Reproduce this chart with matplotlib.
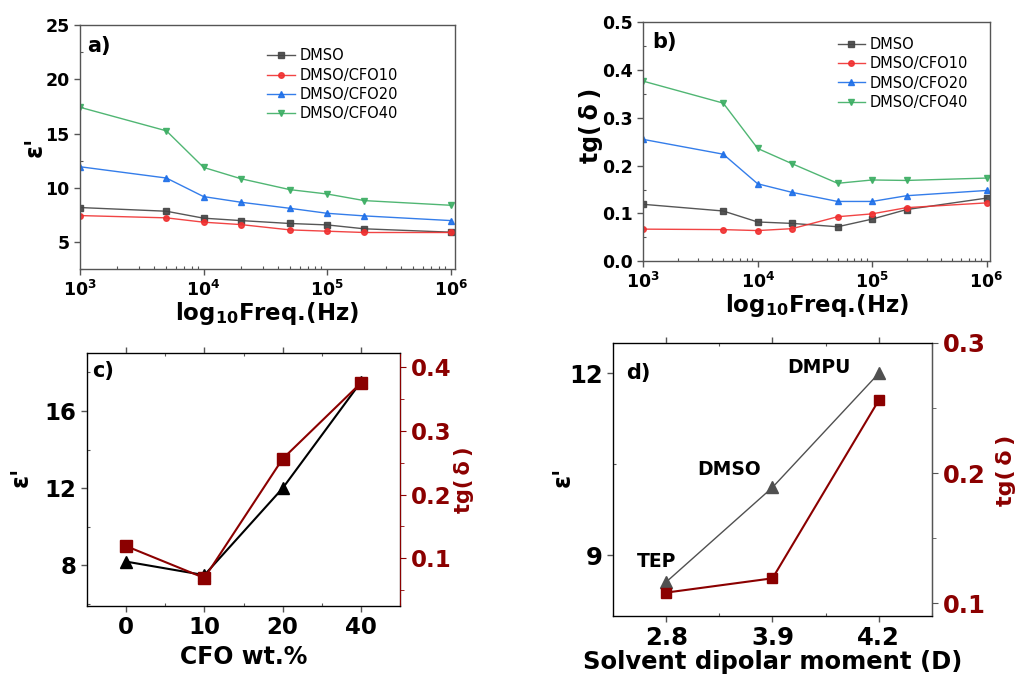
import numpy as np
import matplotlib
matplotlib.use('Agg')
import matplotlib.pyplot as plt
from matplotlib.ticker import MultipleLocator, LogLocator, NullFormatter, FormatStrFormatter

plt.rcParams['font.family'] = ['DejaVu Sans']
plt.rcParams['font.weight'] = 'bold'
plt.rcParams['mathtext.fontset'] = 'custom'
plt.rcParams['mathtext.rm'] = 'DejaVu Sans:bold'
plt.rcParams['mathtext.bf'] = 'DejaVu Sans:bold'
plt.rcParams['mathtext.default'] = 'regular'

DARK_RED = '#8B0000'
SPINE = '#555555'

# frequency sweep (Hz)
freq = [1e3, 5e3, 1e4, 2e4, 5e4, 1e5, 2e5, 1e6]
series_names = ['DMSO', 'DMSO/CFO10', 'DMSO/CFO20', 'DMSO/CFO40']

# real permittivity vs frequency
eps_dmso = [8.19, 7.85, 7.21, 6.99, 6.72, 6.59, 6.23, 5.92]
eps_cfo10 = [7.45, 7.24, 6.84, 6.62, 6.13, 6.01, 5.89, 5.89]
eps_cfo20 = [11.95, 10.91, 9.20, 8.68, 8.12, 7.66, 7.42, 6.99]
eps_cfo40 = [17.43, 15.26, 11.89, 10.85, 9.84, 9.44, 8.83, 8.40]

# loss tangent vs frequency
tg_dmso = [0.119, 0.105, 0.082, 0.079, 0.072, 0.088, 0.108, 0.132]
tg_cfo10 = [0.067, 0.066, 0.064, 0.068, 0.093, 0.099, 0.112, 0.122]
tg_cfo20 = [0.255, 0.224, 0.162, 0.144, 0.125, 0.125, 0.137, 0.148]
tg_cfo40 = [0.377, 0.331, 0.236, 0.204, 0.163, 0.170, 0.169, 0.174]

# values at 1 kHz vs filler content
cfo_wt = ['0', '10', '20', '40']
eps_vs_cfo = [8.2, 7.5, 12.0, 17.5]
tg_vs_cfo = [0.119, 0.069, 0.256, 0.375]

# values vs solvent dipole moment
solvents = ['TEP', 'DMSO', 'DMPU']
dipole = ['2.8', '3.9', '4.2']
eps_vs_dip = [8.56, 10.12, 12.0]
tg_vs_dip = [0.108, 0.119, 0.256]

colors = ['#444444', '#F03030', '#1E6FE8', '#3DAE64']
markers = ['s', 'o', '^', 'v']

TG = 'tg(\u2009δ\u2009)'
EPS = "ε'"


def style_axes(ax, color=SPINE):
    for sp in ax.spines.values():
        sp.set_color(color)
        sp.set_linewidth(1.0)
    ax.tick_params(which='major', direction='out', length=4, width=1, color=color)
    ax.tick_params(which='minor', direction='in', length=2.5, width=0.8, color=color)


def freq_panel(ax, ys, ylim, major, minor, tag, tag_pos, leg_anchor):
    for y, c, m, name in zip(ys, colors, markers, series_names):
        ax.plot(freq, y, color=c, marker=m, ms=4, lw=1, label=name, alpha=0.9)
    ax.set_xscale('log')
    ax.set_xlim(1e3, 1.08e6)
    ax.set_ylim(*ylim)
    ax.xaxis.set_major_locator(LogLocator(base=10, numticks=10))
    ax.xaxis.set_minor_locator(LogLocator(base=10, subs=np.arange(2, 10), numticks=10))
    ax.xaxis.set_minor_formatter(NullFormatter())
    ax.yaxis.set_major_locator(MultipleLocator(major))
    ax.yaxis.set_minor_locator(MultipleLocator(minor))
    style_axes(ax)
    ax.tick_params(labelsize=12.5)
    ax.set_xlabel(r'log$_{10}$Freq.(Hz)', fontsize=16.5, fontweight='bold', labelpad=0)
    ax.text(tag_pos[0], tag_pos[1], tag, transform=ax.transAxes, fontsize=15,
            fontweight='bold', va='top', ha='left')
    leg = ax.legend(loc='upper left', bbox_to_anchor=leg_anchor, frameon=False,
                    fontsize=10.5, labelspacing=0.3, handlelength=1.9,
                    handletextpad=0.3, borderpad=0, borderaxespad=0)
    for t in leg.get_texts():
        t.set_fontweight('normal')


fig = plt.figure(figsize=(10.21, 6.8), dpi=100)

ax_a = fig.add_axes([0.0784, 0.604, 0.367, 0.359])
freq_panel(ax_a, [eps_dmso, eps_cfo10, eps_cfo20, eps_cfo40], (2.5, 25), 5, 2.5,
           'a)', (0.019, 0.955), (0.50, 0.905))
ax_a.set_ylabel(EPS, fontsize=17, fontweight='bold')
ax_a.yaxis.set_label_coords(-0.09, 0.5)

ax_b = fig.add_axes([0.630, 0.616, 0.340, 0.351])
freq_panel(ax_b, [tg_dmso, tg_cfo10, tg_cfo20, tg_cfo40], (0, 0.5), 0.1, 0.05,
           'b)', (0.026, 0.96), (0.56, 0.94))
ax_b.yaxis.set_major_formatter(FormatStrFormatter('%.1f'))
ax_b.set_ylabel(TG, fontsize=17, fontweight='bold')
ax_b.yaxis.set_label_coords(-0.115, 0.57)

# c) permittivity and loss vs CFO content
ax_c = fig.add_axes([0.0852, 0.1088, 0.3066, 0.372])
xc = np.arange(len(cfo_wt))
ax_c.plot(xc, eps_vs_cfo, color='black', marker='^', ms=8, lw=1.5)
ax_c.set_xlim(-0.5, 3.5)
ax_c.set_ylim(5.9, 19.0)
ax_c.set_xticks(xc)
ax_c.set_xticklabels(cfo_wt)
ax_c.xaxis.set_minor_locator(MultipleLocator(0.5))
ax_c.yaxis.set_major_locator(MultipleLocator(4))
ax_c.yaxis.set_minor_locator(MultipleLocator(2))
style_axes(ax_c)
ax_c.tick_params(labelsize=16.5)
ax_c.tick_params(axis='x', which='both', top=True)
ax_c.set_xlabel('CFO wt.%', fontsize=17, fontweight='bold', labelpad=4)
ax_c.set_ylabel(EPS, fontsize=17, fontweight='bold')
ax_c.yaxis.set_label_coords(-0.174, 0.51)
ax_c.text(0.015, 0.97, 'c)', transform=ax_c.transAxes, fontsize=15,
          fontweight='bold', va='top', ha='left')

ax_c2 = ax_c.twinx()
ax_c2.plot(xc, tg_vs_cfo, color=DARK_RED, marker='s', ms=8, lw=1.5)
ax_c2.set_ylim(0.025, 0.422)
ax_c2.yaxis.set_major_locator(MultipleLocator(0.1))
ax_c2.yaxis.set_minor_locator(MultipleLocator(0.05))
ax_c2.spines['right'].set_color(DARK_RED)
ax_c2.tick_params(axis='y', which='major', direction='out', length=4,
                  color=DARK_RED, labelcolor=DARK_RED, labelsize=16.5)
ax_c2.tick_params(axis='y', which='minor', direction='out', length=3, color=DARK_RED)
ax_c2.set_ylabel(TG, color=DARK_RED, fontsize=15, fontweight='bold', labelpad=2)

# d) permittivity and loss vs solvent dipole moment
ax_d = fig.add_axes([0.6004, 0.0941, 0.3124, 0.4015])
xd = np.arange(len(dipole))
ax_d.plot(xd, eps_vs_dip, color='#505050', marker='^', ms=8, lw=1)
ax_d.set_xlim(-0.5, 2.5)
ax_d.set_ylim(8.0, 12.5)
ax_d.set_xticks(xd)
ax_d.set_xticklabels(dipole)
ax_d.xaxis.set_minor_locator(MultipleLocator(0.5))
ax_d.yaxis.set_major_locator(MultipleLocator(3))
ax_d.yaxis.set_minor_locator(MultipleLocator(1.5))
style_axes(ax_d)
ax_d.tick_params(labelsize=17.5)
ax_d.tick_params(axis='x', which='both', top=True)
ax_d.set_xlabel('Solvent dipolar moment (D)', fontsize=17.5, fontweight='bold', labelpad=0)
ax_d.set_ylabel(EPS, fontsize=17, fontweight='bold')
ax_d.yaxis.set_label_coords(-0.12, 0.51)
ax_d.text(0.04, 0.89, 'd)', transform=ax_d.transAxes, fontsize=15,
          fontweight='bold', va='center', ha='left')
for name, x, y, dx, dy in zip(solvents, xd, eps_vs_dip, [-0.09, -0.41, -0.56],
                              [0.34, 0.29, 0.1]):
    ax_d.text(x + dx, y + dy, name, fontsize=13.5, fontweight='bold',
              ha='center', va='center')

ax_d2 = ax_d.twinx()
ax_d2.plot(xd, tg_vs_dip, color=DARK_RED, marker='s', ms=6.5, lw=1.5)
ax_d2.set_ylim(0.09, 0.30)
ax_d2.yaxis.set_major_locator(MultipleLocator(0.1))
ax_d2.yaxis.set_minor_locator(MultipleLocator(0.05))
ax_d2.spines['right'].set_color(SPINE)
ax_d2.tick_params(axis='y', which='major', direction='out', length=4,
                  color=SPINE, labelcolor=DARK_RED, labelsize=17.5)
ax_d2.tick_params(axis='y', which='minor', direction='out', length=3, color=SPINE)
ax_d2.set_ylabel(TG, color=DARK_RED, fontsize=16, fontweight='bold', labelpad=8)
ax_d2.yaxis.set_label_coords(1.2, 0.535)

fig.savefig('out.png', dpi=100)
